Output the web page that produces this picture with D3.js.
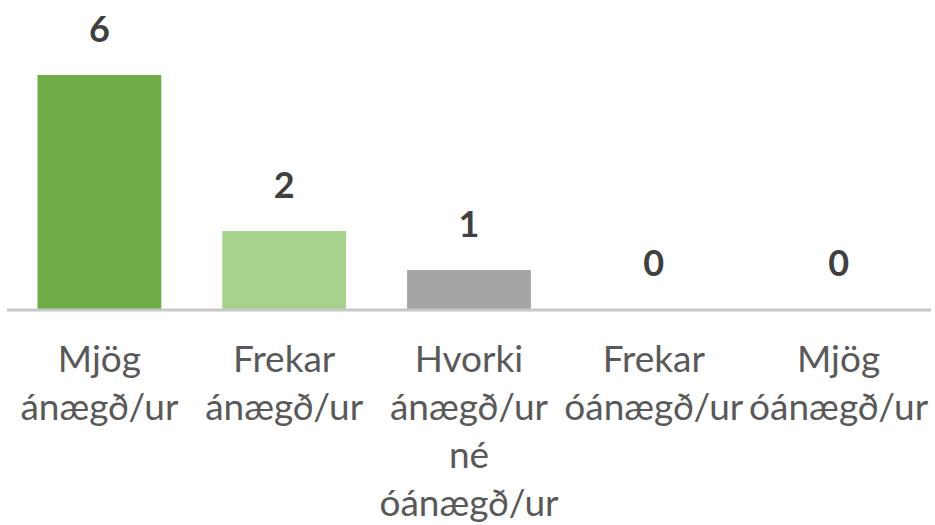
<!DOCTYPE html>
<html>
<head>
<meta charset="utf-8">
<script src="https://cdn.jsdelivr.net/npm/d3@7"></script>
<style>
  body { margin: 0; background: #fff; }
  .valLabel { font-family: Lato, "Liberation Sans", sans-serif; font-weight: bold; font-size: 36px; fill: #404040; }
  .catLabel { font-family: Lato, "Liberation Sans", sans-serif; font-size: 37px; fill: #595959; }
</style>
</head>
<body>
<div id="chart"></div>
<script>
var categories = ["Mjög ánægð/ur", "Frekar ánægð/ur", "Hvorki ánægð/ur né óánægð/ur", "Frekar óánægð/ur", "Mjög óánægð/ur"];
var counts = [6, 2, 1, 0, 0];
var barColors = ["#70ad47", "#a9d18e", "#a5a5a5", "#ed7d31", "#c00000"];

var svgWidth = 935;
var svgHeight = 525;

var margin = { top: 75, bottom: 216, left: 7, right: 4 };
var chartWidth = svgWidth - margin.left - margin.right;
var chartHeight = svgHeight - margin.top - margin.bottom;

var svg = d3.select("#chart")
    .append("svg")
    .attr("width", svgWidth)
    .attr("height", svgHeight);

var chartGroup = svg.append("g")
    .attr("transform", `translate(${margin.left},${margin.top})`);

var xScale = d3.scaleBand()
    .domain(categories)
    .range([0, chartWidth])
    .paddingInner(0.33)
    .paddingOuter(0.165);

var yScale = d3.scaleLinear()
    .domain([0, 6])
    .range([chartHeight, 0]);

// bars
chartGroup.selectAll("rect.bar")
    .data(categories)
    .enter()
    .append("rect")
    .attr("class", "bar")
    .attr("x", d => xScale(d))
    .attr("width", xScale.bandwidth())
    .attr("y", (d, i) => yScale(counts[i]))
    .attr("height", (d, i) => chartHeight - yScale(counts[i]))
    .attr("fill", (d, i) => barColors[i]);

// baseline
chartGroup.append("line")
    .attr("x1", 0)
    .attr("x2", chartWidth)
    .attr("y1", yScale(0) + 1)
    .attr("y2", yScale(0) + 1)
    .attr("stroke", "#c8c8c8")
    .attr("stroke-width", 3);

// value labels
chartGroup.selectAll("text.valLabel")
    .data(categories)
    .enter()
    .append("text")
    .attr("class", "valLabel")
    .attr("text-anchor", "middle")
    .attr("x", d => xScale(d) + xScale.bandwidth() / 2)
    .attr("y", (d, i) => yScale(counts[i]) - 33)
    .text((d, i) => counts[i]);

// category labels, one word per line
var catText = chartGroup.selectAll("text.catLabel")
    .data(categories)
    .enter()
    .append("text")
    .attr("class", "catLabel")
    .attr("text-anchor", "middle")
    .attr("x", d => xScale(d) + xScale.bandwidth() / 2)
    .attr("y", chartHeight + 63);

catText.each(function(d) {
    var el = d3.select(this);
    var x = xScale(d) + xScale.bandwidth() / 2;
    d.split(" ").forEach(function(word, j) {
        el.append("tspan")
            .attr("x", x)
            .attr("dy", j === 0 ? 0 : 48)
            .text(word);
    });
});
</script>
</body>
</html>
